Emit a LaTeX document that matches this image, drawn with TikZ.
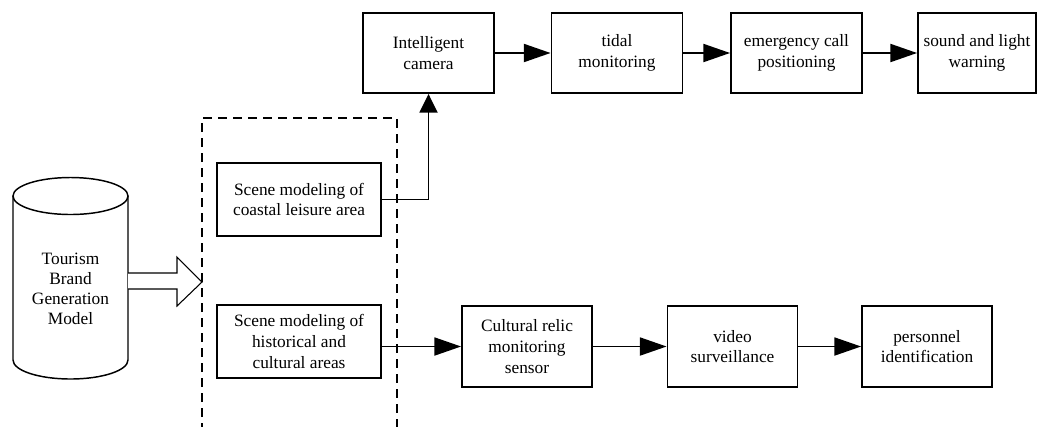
\documentclass[tikz,border=0pt]{standalone}
\usepackage{fontspec}
\setmainfont{Liberation Serif}
\usetikzlibrary{arrows.meta,calc}
\begin{document}
\begin{tikzpicture}[x=0.75pt,y=-0.75pt,
  box/.style={draw,line width=1.4pt,minimum width=98.25pt,minimum height=60pt,
    align=center,inner sep=2pt,font=\fontsize{13}{15.5}\selectfont},
  conn/.style={line width=1.4pt,-{Triangle[length=20pt,width=13.5pt]}},
  frame/.style={line width=1.4pt,dash pattern=on 6.75pt off 4.5pt},
  cyl/.style={line width=1.1pt},
  blockarrow/.style={line width=0.8pt,fill=white},
]
\useasboundingbox (0,0) rectangle (1038,426);

% top row
\node[box] (cam) at (428.5,53) {Intelligent\\camera};
\node[box] (tidal) at (617,53) {tidal\\monitoring};
\node[box] (emerg) at (796.5,53) {emergency call\\positioning};
\node[box,minimum width=88.5pt] (sound) at (977,53) {sound and light\\warning};

% scene boxes
\node[box,minimum width=123pt,minimum height=54.75pt] (coast) at (299,199.5) {Scene modeling of\\coastal leisure area};
\node[box,minimum width=123pt,minimum height=54.75pt] (hist) at (299,341.5) {Scene modeling of\\historical and\\cultural areas};

% bottom row
\node[box,minimum width=97.5pt,minimum height=60.75pt] (relic) at (527,346.5) {Cultural relic\\monitoring\\sensor};
\node[box,minimum width=97.5pt,minimum height=60.75pt] (video) at (732.5,346.5) {video\\surveillance};
\node[box,minimum width=97.5pt,minimum height=60.75pt] (person) at (927,346.5) {personnel\\identification};

% dashed frame
\draw[frame] (202,432) -- (202,118) -- (397,118) -- (397,432);

% cylinder
\draw[cyl] (70.5,196) ellipse [x radius=43.125pt, y radius=13.875pt];
\draw[cyl] (13,196) -- (13,360) arc[start angle=180,end angle=360,x radius=43.125pt,y radius=14.25pt] -- (128,196);
\node[align=center,font=\fontsize{13}{15}\selectfont] (tbgm) at (70.5,289) {Tourism\\Brand\\Generation\\Model};

% hollow block arrow
\coordinate (bstart) at (128,281);
\draw[blockarrow] ($(bstart)+(0,-8)$) -- ++(49,0) -- ++(0,-16) -- (202,282) -- (177,306) -- (177,289) -- ($(bstart)+(0,8)$);

% connectors
\draw[conn] (cam) -- (tidal);
\draw[conn] (tidal) -- (emerg);
\draw[conn] (emerg) -- (sound);
\draw[line width=1.4pt,-{Triangle[length=14pt,width=13.5pt]}] (coast.east) -| (cam.south);
\draw[conn] (hist.east |- relic.west) -- (relic.west);
\draw[conn] (relic) -- (video);
\draw[conn] (video) -- (person);
\end{tikzpicture}
\end{document}
